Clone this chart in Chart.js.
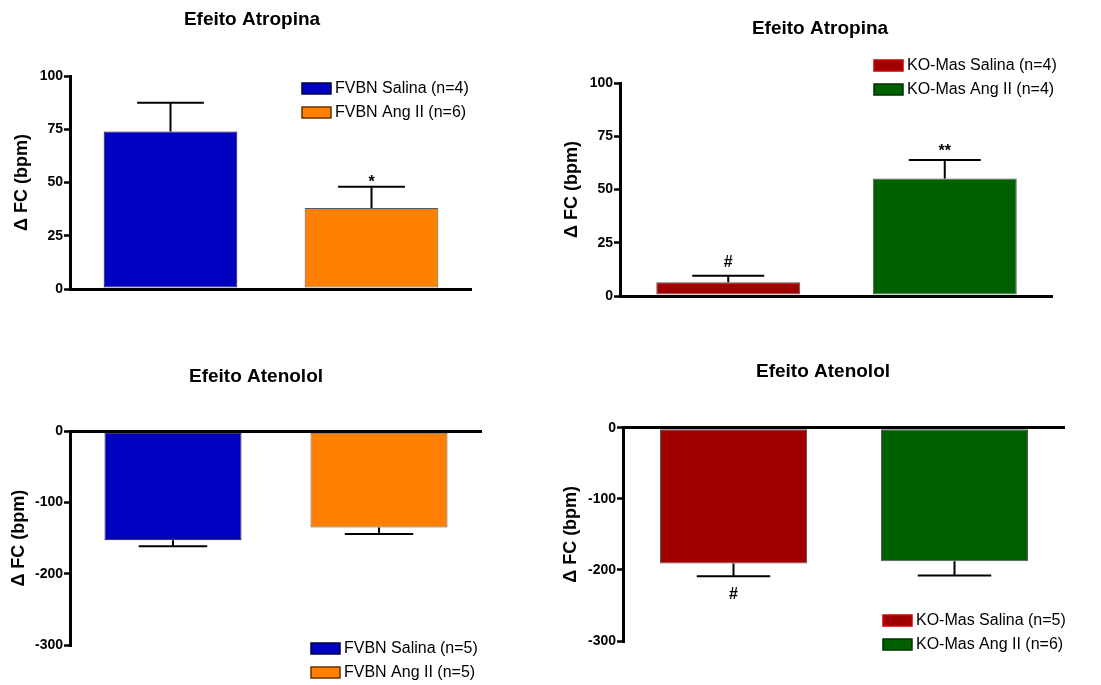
<!DOCTYPE html>
<html>
<head>
<meta charset="utf-8">
<script src="https://cdn.jsdelivr.net/npm/chart.js@4.4.1/dist/chart.umd.min.js"></script>
<style>
  html, body { margin: 0; padding: 0; background: #fff; }
  #wrap { position: relative; width: 1101px; height: 685px; }
  canvas { position: absolute; }
</style>
</head>
<body>
<div id="wrap">
  <canvas id="c1" width="550" height="342" style="left:0;top:0"></canvas>
  <canvas id="c2" width="551" height="342" style="left:550px;top:0"></canvas>
  <canvas id="c3" width="550" height="343" style="left:0;top:342px"></canvas>
  <canvas id="c4" width="551" height="343" style="left:550px;top:342px"></canvas>
</div>
<script>
// grupos (legendas)
const fvbnAtropinaGroups = ['FVBN Salina (n=4)', 'FVBN Ang II (n=6)'];
const koAtropinaGroups = ['KO-Mas Salina (n=4)', 'KO-Mas Ang II (n=4)'];
const fvbnAtenololGroups = ['FVBN Salina (n=5)', 'FVBN Ang II (n=5)'];
const koAtenololGroups = ['KO-Mas Salina (n=5)', 'KO-Mas Ang II (n=6)'];

// médias e EPM (bpm)
const fvbnAtropinaMean = [74, 38];
const fvbnAtropinaSem = [13.5, 10];
const koAtropinaMean = [6.5, 55.2];
const koAtropinaSem = [3, 8.6];
const fvbnAtenololMean = [-153, -135];
const fvbnAtenololSem = [8.5, 9];
const koAtenololMean = [-191, -188];
const koAtenololSem = [18, 20];

// marcas de significância
const fvbnAtropinaMarks = ['', '*'];
const koAtropinaMarks = ['#', '**'];
const fvbnAtenololMarks = ['', ''];
const koAtenololMarks = ['#', ''];

// ticks do eixo y
const atropinaTicks = [0, 25, 50, 75, 100];
const atenololTicks = [-300, -200, -100, 0];

const FONT = "'Liberation Sans', Arial, sans-serif";
const fvbnColors = ['#0000C0', '#FF8000'];
const fvbnBorders = ['#1a1a1a', '#5a5a5a'];
const koColors = ['#A00000', '#006000'];
const koBorders = ['#555555', '#555555'];

// barras de erro + marcas (* # **)
const errorBarsPlugin = {
  id: 'errorBars',
  afterDatasetsDraw(chart, args, opts) {
    const ctx = chart.ctx;
    const ds = chart.data.datasets[0];
    const meta = chart.getDatasetMeta(0);
    const y = chart.scales.y;
    ctx.save();
    ctx.strokeStyle = '#000';
    ctx.lineWidth = 2;
    meta.data.forEach((bar, i) => {
      const v = ds.data[i];
      const e = ds.sem[i];
      const end = v >= 0 ? v + e : v - e;
      const yEnd = y.getPixelForValue(end);
      const half = bar.width / 4;
      ctx.beginPath();
      ctx.moveTo(bar.x, bar.y);
      ctx.lineTo(bar.x, yEnd);
      ctx.moveTo(bar.x - half, yEnd);
      ctx.lineTo(bar.x + half, yEnd);
      ctx.stroke();
      const mark = ds.marks[i];
      if (mark) {
        ctx.fillStyle = '#000';
        ctx.font = 'bold 16px ' + FONT;
        ctx.textAlign = 'center';
        const m = ctx.measureText(mark);
        if (v >= 0) {
          ctx.textBaseline = 'alphabetic';
          ctx.fillText(mark, bar.x, yEnd - opts.gap - m.actualBoundingBoxDescent);
        } else {
          ctx.textBaseline = 'alphabetic';
          ctx.fillText(mark, bar.x, yEnd + opts.gap + m.actualBoundingBoxAscent);
        }
      }
    });
    ctx.restore();
  }
};

// legenda desenhada na posição do original
const boxLegendPlugin = {
  id: 'boxLegend',
  afterDraw(chart, args, opts) {
    const ctx = chart.ctx;
    const ds = chart.data.datasets[0];
    ctx.save();
    ctx.font = '16px ' + FONT;
    ctx.textBaseline = 'middle';
    ctx.textAlign = 'left';
    chart.data.labels.forEach((lab, i) => {
      const top = opts.y + i * opts.step;
      ctx.fillStyle = ds.backgroundColor[i];
      ctx.fillRect(opts.x, top, 29, 11);
      ctx.strokeStyle = ds.legendBorder[i];
      ctx.lineWidth = 1.5;
      ctx.strokeRect(opts.x, top, 29, 11);
      ctx.fillStyle = '#000';
      ctx.fillText(lab, opts.x + 33, top + 6);
    });
    ctx.restore();
  }
};

function makeChart(id, p) {
  const titleHalf = 19 * 1.2 / 2;
  const padLeft = 2 * p.titleX - p.area.right;
  const yWidth = p.area.left - padLeft;
  new Chart(document.getElementById(id), {
    type: 'bar',
    data: {
      labels: p.groups,
      datasets: [{
        data: p.mean,
        sem: p.sem,
        marks: p.marks,
        backgroundColor: p.colors,
        borderColor: p.borders,
        legendBorder: p.legendBorders,
        borderWidth: 1,
        borderSkipped: false,
        barPercentage: 0.665,
        categoryPercentage: 1
      }]
    },
    options: {
      responsive: false,
      animation: false,
      layout: {
        padding: {
          left: padLeft,
          right: p.width - p.area.right,
          top: 0,
          bottom: p.height - p.area.bottom
        }
      },
      plugins: {
        legend: { display: false },
        tooltip: { enabled: false },
        title: {
          display: true,
          text: p.title,
          color: '#000',
          font: { family: FONT, size: 19, weight: 'bold' },
          padding: { top: p.titleY - titleHalf, bottom: p.area.top - p.titleY - titleHalf }
        },
        errorBars: { gap: p.gap },
        boxLegend: p.legend
      },
      scales: {
        x: { display: false },
        y: {
          z: 1,
          min: p.ticks[0],
          max: p.ticks[p.ticks.length - 1],
          afterBuildTicks: (s) => { s.ticks = p.ticks.map(v => ({ value: v })); },
          afterFit: (s) => { s.width = yWidth; },
          border: { display: true, color: '#000', width: 3 },
          grid: {
            color: (c) => (c.tick && c.tick.value === 0) ? '#000' : 'rgba(0,0,0,0)',
            lineWidth: 3,
            drawTicks: true,
            tickLength: 6,
            tickColor: '#000',
            tickWidth: 2.5
          },
          ticks: {
            color: '#000',
            padding: 1,
            font: { family: FONT, size: 14, weight: 'bold' }
          },
          title: {
            display: true,
            text: 'Δ FC (bpm)',
            color: '#000',
            font: { family: FONT, size: 18, weight: 'bold' },
            padding: { top: p.yTitleX - 10.8 - padLeft, bottom: 0 }
          }
        }
      }
    },
    plugins: [errorBarsPlugin, boxLegendPlugin]
  });
}

makeChart('c1', {
  title: 'Efeito Atropina', groups: fvbnAtropinaGroups,
  mean: fvbnAtropinaMean, sem: fvbnAtropinaSem, marks: fvbnAtropinaMarks,
  colors: fvbnColors, borders: fvbnBorders, legendBorders: ['#000040', '#6a3000'],
  ticks: atropinaTicks, width: 550, height: 342,
  area: { left: 70, right: 472, top: 76, bottom: 289 },
  titleX: 252, titleY: 20, yTitleX: 22, gap: 5,
  legend: { x: 302, y: 83, step: 24 }
});

makeChart('c2', {
  title: 'Efeito Atropina', groups: koAtropinaGroups,
  mean: koAtropinaMean, sem: koAtropinaSem, marks: koAtropinaMarks,
  colors: koColors, borders: koBorders, legendBorders: ['#d00000', '#003000'],
  ticks: atropinaTicks, width: 551, height: 342,
  area: { left: 70, right: 503, top: 83, bottom: 296 },
  titleX: 270, titleY: 28.5, yTitleX: 22, gap: 9,
  legend: { x: 324, y: 60, step: 24 }
});

makeChart('c3', {
  title: 'Efeito Atenolol', groups: fvbnAtenololGroups,
  mean: fvbnAtenololMean, sem: fvbnAtenololSem, marks: fvbnAtenololMarks,
  colors: fvbnColors, borders: fvbnBorders, legendBorders: ['#000040', '#6a3000'],
  ticks: atenololTicks, width: 550, height: 343,
  area: { left: 70, right: 482, top: 89.3, bottom: 303 },
  titleX: 256, titleY: 34.7, yTitleX: 19, gap: 11,
  legend: { x: 311, y: 301, step: 24 }
});

makeChart('c4', {
  title: 'Efeito Atenolol', groups: koAtenololGroups,
  mean: koAtenololMean, sem: koAtenololSem, marks: koAtenololMarks,
  colors: koColors, borders: koBorders, legendBorders: ['#d00000', '#003000'],
  ticks: atenololTicks, width: 551, height: 343,
  area: { left: 73, right: 515, top: 85.7, bottom: 299 },
  titleX: 273, titleY: 30, yTitleX: 21, gap: 11,
  legend: { x: 333, y: 273, step: 24 }
});
</script>
</body>
</html>
